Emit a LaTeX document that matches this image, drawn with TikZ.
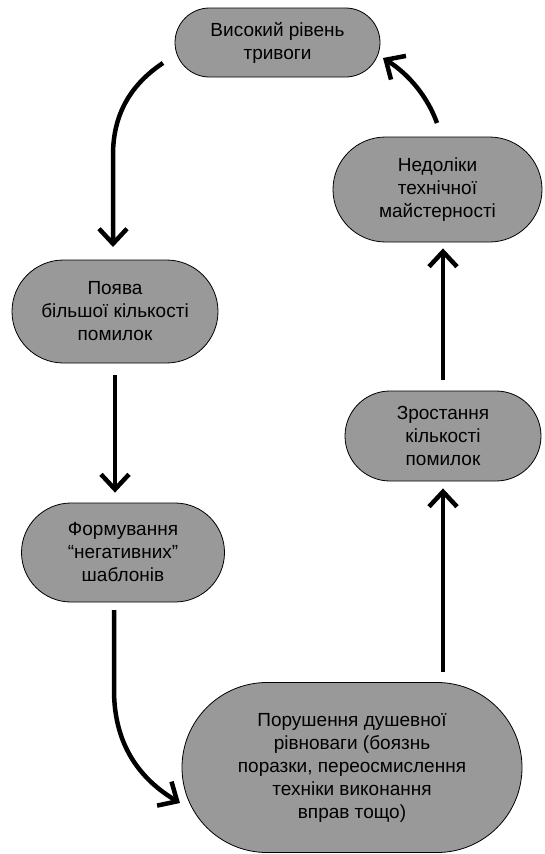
\documentclass[tikz,border=0pt]{standalone}
\usepackage{fontspec}
\setmainfont{Liberation Sans}
\usetikzlibrary{arrows.meta,shapes.misc}
\begin{document}
\begin{tikzpicture}[x=1pt,y=-1pt,
  box/.style={rounded rectangle, draw=black, line width=0.8pt, fill=black!40,
    align=center, inner sep=0pt, font=\fontsize{19}{23}\selectfont},
  arr/.style={line width=4.5pt, -{Straight Barb[length=15pt,width=28pt]}}]
\useasboundingbox (0,0) rectangle (544,854);
\node[box, minimum width=205pt, minimum height=69pt] (n1) at (277.5,42.5) {Високий рівень\\тривоги};
\node[box, minimum width=206pt, minimum height=103pt] (n2) at (115,311.5) {Поява\\більшої кількості\\помилок};
\node[box, minimum width=203pt, minimum height=99pt] (n3) at (123,552.5) {Формування\\“негативних”\\шаблонів};
\node[box, minimum width=340pt, minimum height=170pt] (n4) at (352,767.5) {Порушення душевної\\рівноваги (боязнь\\поразки, переосмислення\\техніки виконання\\вправ тощо)};
\node[box, minimum width=196pt, minimum height=90pt] (n5) at (443,436) {Зростання\\кількості\\помилок};
\node[box, minimum width=209pt, minimum height=105pt] (n6) at (437.5,189.5) {Недоліки\\технічної\\майстерності};
\coordinate (a1s) at (163,63);
\coordinate (a1e) at (113,247);
\draw[arr] (a1s) .. controls (130,85) and (113,115) .. (113,155) -- (a1e);
\draw[arr, shorten <=12pt, shorten >=10pt] (n2.south) -- (n2.south |- n3.north);
\coordinate (a3s) at (114,610);
\coordinate (a3e) at (180,803);
\draw[arr] (a3s) -- (114,690) .. controls (114,750) and (145,782) .. (a3e);
\draw[arr, shorten <=10pt, shorten >=7pt] (n5.south |- n4.north) -- (n5.south);
\draw[arr, shorten <=11pt, shorten >=6pt] (n5.north) -- (n5.north |- n6.south);
\coordinate (a6s) at (437,123);
\coordinate (a6e) at (383,58);
\draw[arr] (a6s) .. controls (428,98) and (410,75) .. (a6e);
\end{tikzpicture}
\end{document}
